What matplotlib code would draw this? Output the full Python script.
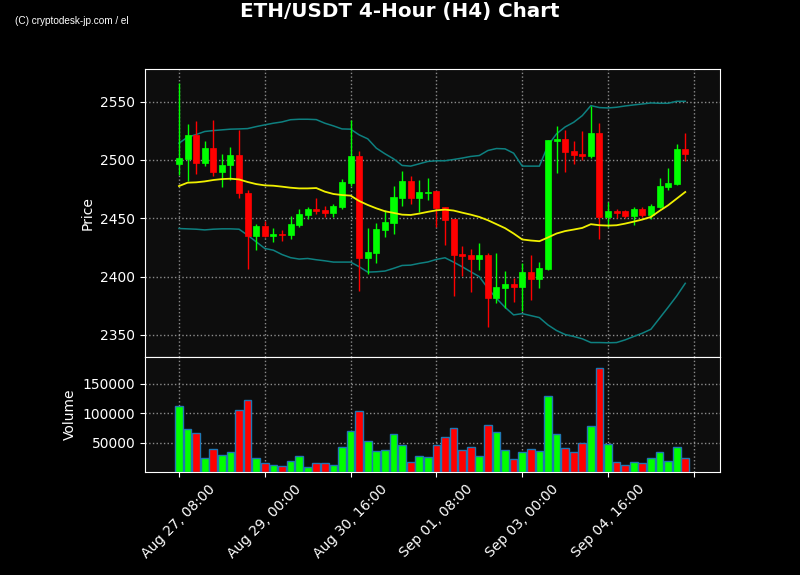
import matplotlib
matplotlib.use("Agg")
import matplotlib.pyplot as plt
import numpy as np
import pandas as pd

# ---- data ----
start_time = "2024-08-27 08:00"
opens = [2496.4, 2500.7, 2521.8, 2497.3, 2510.4, 2489.6, 2495.3, 2504.4, 2471.9, 2434.9,
         2443.2, 2435.2, 2436.9, 2435.8, 2444.3, 2452.8, 2457.7, 2456.8, 2454.6, 2459.7,
         2480.2, 2503.8, 2416.1, 2420.4, 2440.0, 2446.0, 2467.4, 2481.6, 2467.4, 2471.9,
         2473.1, 2459.4, 2449.4, 2419.5, 2418.1, 2414.7, 2418.1, 2381.9, 2390.5, 2393.3,
         2391.3, 2403.8, 2398.1, 2406.4, 2516.1, 2518.1, 2507.3, 2505.0, 2503.0, 2522.9,
         2451.1, 2456.0, 2456.0, 2452.0, 2457.7, 2452.8, 2459.7, 2476.8, 2479.1, 2509.8]
highs = [2566.0, 2530.9, 2533.2, 2516.4, 2534.3, 2505.3, 2511.3, 2525.8, 2473.9, 2444.9,
         2447.7, 2442.0, 2440.3, 2452.3, 2458.3, 2459.4, 2467.7, 2460.8, 2462.3, 2483.9,
         2534.3, 2508.1, 2442.0, 2446.3, 2457.4, 2477.9, 2490.2, 2486.5, 2482.5, 2484.8,
         2473.5, 2459.6, 2449.6, 2426.6, 2423.8, 2428.9, 2420.4, 2419.8, 2404.4, 2399.0,
         2411.3, 2418.9, 2412.7, 2516.7, 2528.9, 2525.8, 2516.1, 2524.9, 2546.6, 2531.8,
         2464.0, 2458.3, 2456.8, 2459.4, 2459.7, 2462.0, 2484.8, 2493.3, 2513.8, 2523.2]
lows = [2486.8, 2481.9, 2488.2, 2494.7, 2485.9, 2476.8, 2482.5, 2467.7, 2406.1, 2422.4,
        2434.0, 2429.8, 2430.6, 2432.6, 2442.6, 2449.1, 2453.4, 2451.1, 2451.1, 2458.0,
        2477.9, 2387.6, 2402.1, 2411.3, 2433.5, 2436.9, 2460.8, 2462.0, 2455.1, 2466.0,
        2442.6, 2426.9, 2383.3, 2400.4, 2386.5, 2405.6, 2357.1, 2377.6, 2373.4, 2377.9,
        2370.2, 2379.9, 2389.9, 2405.6, 2488.7, 2489.6, 2496.7, 2499.6, 2501.9, 2431.8,
        2442.6, 2450.0, 2450.0, 2444.6, 2451.1, 2449.7, 2458.5, 2474.5, 2478.2, 2498.7]
closes = [2501.6, 2521.8, 2497.3, 2510.4, 2489.6, 2495.9, 2504.4, 2471.7, 2434.9, 2443.2,
          2434.9, 2436.9, 2435.5, 2444.9, 2453.4, 2457.7, 2456.3, 2454.6, 2460.3, 2480.8,
          2503.8, 2416.1, 2420.9, 2440.6, 2446.6, 2468.0, 2481.6, 2467.4, 2472.2, 2472.8,
          2458.8, 2448.9, 2418.9, 2417.8, 2414.7, 2418.1, 2381.9, 2390.7, 2393.3, 2391.3,
          2403.8, 2398.1, 2407.0, 2516.7, 2518.1, 2506.7, 2504.1, 2503.3, 2522.9, 2451.1,
          2456.0, 2454.6, 2452.0, 2457.7, 2452.6, 2460.3, 2477.4, 2479.9, 2509.8, 2505.3]
volumes = [112400, 73500, 66700, 24300, 39500, 29400, 34500, 105700, 122600, 24300,
           15800, 12400, 10700, 19200, 27700, 9000, 15800, 15800, 12400, 42900,
           70100, 104000, 53100, 35600, 37900, 65000, 46300, 17500, 27700, 26000,
           45200, 59900, 75100, 37900, 42900, 27700, 80200, 68400, 37900, 22600,
           34500, 39500, 36200, 129400, 65000, 41200, 34500, 49700, 78500, 178000,
           48000, 17500, 12400, 17500, 15800, 24300, 34500, 19200, 42900, 24300]
ma_mid = [2477.6, 2480.5, 2480.8, 2481.6, 2482.8, 2483.6, 2483.9, 2483.3, 2481.1, 2479.3,
          2478.2, 2477.9, 2477.1, 2476.2, 2475.6, 2475.6, 2475.9, 2472.8, 2470.8, 2469.9,
          2469.4, 2464.8, 2461.4, 2458.5, 2456.0, 2454.6, 2453.1, 2452.8, 2454.0, 2455.5,
          2456.8, 2457.4, 2456.6, 2454.8, 2453.1, 2451.1, 2448.3, 2444.9, 2441.5, 2436.9,
          2431.8, 2430.9, 2430.3, 2433.5, 2436.9, 2439.0, 2440.3, 2441.7, 2444.9, 2444.0,
          2443.7, 2444.0, 2445.4, 2447.1, 2448.9, 2451.1, 2456.3, 2461.1, 2466.8, 2472.5]
bb_upper = [2514.4, 2519.5, 2521.8, 2524.4, 2525.2, 2525.8, 2526.4, 2526.6, 2526.9, 2528.6,
            2530.1, 2531.5, 2532.6, 2534.5, 2534.9, 2534.9, 2534.6, 2531.5, 2529.2, 2526.6,
            2526.4, 2521.5, 2518.1, 2510.1, 2505.3, 2501.0, 2495.3, 2494.7, 2496.7, 2498.7,
            2499.3, 2499.3, 2500.4, 2501.6, 2503.0, 2503.8, 2508.1, 2509.8, 2509.5, 2505.8,
            2494.7, 2494.7, 2494.7, 2512.4, 2522.4, 2528.3, 2532.3, 2538.0, 2546.6, 2544.9,
            2544.6, 2545.2, 2546.3, 2547.2, 2548.0, 2548.9, 2548.6, 2548.6, 2550.3, 2550.3]
bb_lower = [2441.2, 2440.9, 2440.6, 2440.0, 2440.6, 2440.9, 2440.9, 2440.6, 2435.5, 2429.8,
            2424.1, 2422.6, 2418.9, 2416.2, 2415.0, 2415.5, 2414.4, 2413.5, 2412.4, 2412.4,
            2412.4, 2408.4, 2403.8, 2404.1, 2404.7, 2407.0, 2409.5, 2409.8, 2411.3, 2412.5,
            2414.7, 2416.1, 2412.4, 2408.4, 2404.1, 2399.9, 2389.9, 2381.3, 2373.6, 2367.1,
            2368.2, 2366.5, 2364.8, 2358.5, 2353.7, 2350.3, 2348.6, 2346.6, 2343.4, 2343.4,
            2343.2, 2343.4, 2345.7, 2348.6, 2351.4, 2354.8, 2364.2, 2373.6, 2383.3, 2394.2]
price_ticks = [2350, 2400, 2450, 2500, 2550]
volume_ticks = [50000, 100000, 150000]
title = "ETH/USDT 4-Hour (H4) Chart"
watermark = "(C) cryptodesk-jp.com / el"

times = pd.date_range(start_time, periods=len(opens), freq="4h")
x = np.arange(len(opens))
o = np.array(opens); h = np.array(highs); l = np.array(lows); c = np.array(closes)
up = c >= o
colors = np.where(up, "#00ff00", "#ff0000")

# ---- figure ----
fig = plt.figure(figsize=(8, 5.75), dpi=100, facecolor="black")
ax = fig.add_axes([145/800, 1-357/575, 575/800, 288/575])
axv = fig.add_axes([145/800, 1-472/575, 575/800, 115/575], sharex=ax)

for a in (ax, axv):
    a.set_facecolor("#0d0d0d")
    for s in a.spines.values():
        s.set_color("white")
    a.tick_params(colors="white", labelsize=10)
    a.grid(True, color="#9a9a9a", linestyle=":", linewidth=1.0, alpha=0.9)
    a.set_axisbelow(True)

# wicks and bodies
ax.vlines(x, l, h, colors=colors, linewidth=1.0, zorder=2)
body_bottom = np.minimum(o, c)
body_height = np.maximum(np.abs(c - o), 0.6)
ax.bar(x, body_height, bottom=body_bottom, width=0.7, color=colors,
       edgecolor=colors, linewidth=0.5, zorder=3)

# Bollinger bands and moving average
ax.plot(x, bb_upper, color="#0e8080", linewidth=1.1, zorder=1)
ax.plot(x, bb_lower, color="#0e8080", linewidth=1.1, zorder=1)
ax.plot(x, ma_mid, color="#f0f000", linewidth=1.3, zorder=4)

ax.set_ylim(2331, 2578)
ax.set_yticks(price_ticks)
ax.set_ylabel("Price", color="white", fontsize=10)
ax.tick_params(axis="x", labelbottom=False, length=0)

# volume
axv.bar(x, volumes, width=0.9, color=colors, edgecolor="#1f77b4", linewidth=1.0, zorder=3)
axv.set_ylim(0, 196000)
axv.set_yticks(volume_ticks)
axv.set_ylabel("Volume", color="white", fontsize=10)

tick_pos = list(range(0, 61, 10))
tick_labels = [times[i].strftime("%b %d, %H:%M") if i < len(times) else "" for i in tick_pos]
axv.set_xticks(tick_pos)
axv.set_xticklabels(tick_labels, rotation=45, ha="center")
axv.set_xlim(-3.96, 63.05)

fig.text(0.5, 1-11/575, title, color="white", fontsize=14.3, fontweight="bold",
         ha="center", va="center")
fig.text(15/800, 1-21/575, watermark, color="white", fontsize=7.2,
         family=["Liberation Sans", "DejaVu Sans"], ha="left", va="center")

fig.savefig("out.png", dpi=100, facecolor="black")
